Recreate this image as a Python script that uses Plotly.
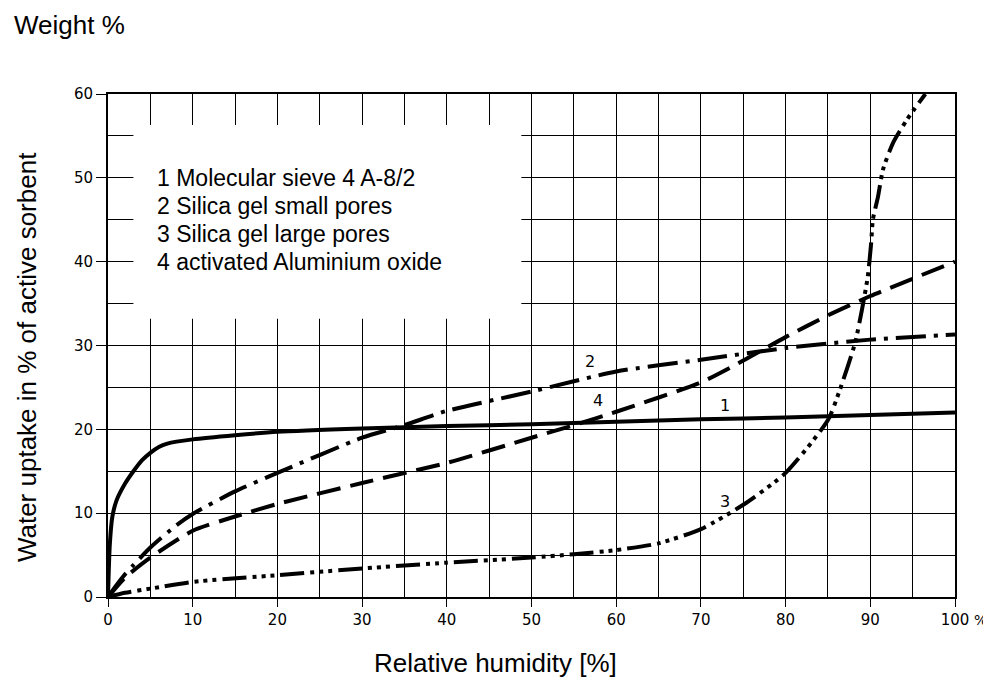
import plotly.graph_objects as go

# Relative humidity [%] and water uptake [weight %]
rh_1 = [0, 0.2, 0.5, 1, 2, 3, 4, 5, 6, 7, 10, 15, 20, 30, 40, 50, 60, 70, 80, 90, 100]
up_1 = [0, 6.0, 9.5, 11.5, 13.5, 15.0, 16.3, 17.2, 17.9, 18.3, 18.8, 19.3, 19.7, 20.1, 20.4, 20.6, 20.9, 21.2, 21.4, 21.7, 22.0]

rh_2 = [0, 1, 2, 3, 5, 8, 10, 15, 20, 30, 35, 40, 50, 60, 70, 80, 90, 100]
up_2 = [0, 1.4, 2.7, 3.8, 5.9, 8.5, 9.9, 12.6, 14.8, 19.0, 20.5, 22.2, 24.5, 26.9, 28.3, 29.7, 30.7, 31.3]

rh_3 = [0, 2, 5, 10, 20, 30, 40, 50, 55, 60, 65, 70, 75, 80, 85, 86.4, 88.2, 89, 89.7, 90.1, 90.3, 90.9, 91.5, 92.7, 94.3, 96.5]
up_3 = [0, 0.5, 1.0, 1.8, 2.6, 3.4, 4.1, 4.7, 5.1, 5.6, 6.4, 8.1, 11.0, 14.8, 21.1, 24.7, 30.3, 34.2, 38.2, 42.2, 45.0, 47.7, 51.0, 54.2, 56.9, 60.0]

rh_4 = [0, 2, 5, 10, 15, 20, 30, 40, 50, 55, 60, 70, 75, 80, 85, 90, 100]
up_4 = [0, 2.3, 4.7, 7.9, 9.6, 11.1, 13.6, 16.0, 19.0, 20.5, 22.1, 25.6, 28.2, 31.0, 33.6, 35.9, 40.0]

legend_lines = ["1 Molecular sieve 4 A-8/2", "2 Silica gel small pores",
                "3 Silica gel large pores", "4 activated Aluminium oxide"]
legend_y = [50.0, 46.67, 43.33, 40.0]

curve_labels = ["1", "2", "3", "4"]
curve_label_x = [72.8, 56.9, 72.8, 57.8]
curve_label_y = [22.9, 28.1, 11.4, 23.4]

x_ticks = list(range(0, 101, 10))
y_ticks = list(range(0, 61, 10))

tick_font = dict(family="DejaVu Sans", size=15, color="black")
title_font = dict(family="Liberation Sans, Arial", size=26, color="black")
legend_font = dict(family="Liberation Sans, Arial", size=23, color="black")
label_font = dict(family="DejaVu Sans", size=16, color="black")

fig = go.Figure()
fig.add_trace(go.Scatter(x=rh_1, y=up_1, mode="lines", line=dict(color="black", width=4, shape="spline", smoothing=0.6)))
fig.add_trace(go.Scatter(x=rh_2, y=up_2, mode="lines", line=dict(color="black", width=4, shape="spline", smoothing=0.6, dash="30px,8px,4px,8px")))
fig.add_trace(go.Scatter(x=rh_3, y=up_3, mode="lines", line=dict(color="black", width=4, shape="spline", smoothing=0.6, dash="24px,6px,4px,5px,4px,5px,4px,6px")))
fig.add_trace(go.Scatter(x=rh_4, y=up_4, mode="lines", line=dict(color="black", width=4, shape="spline", smoothing=0.6, dash="24px,10px")))

fig.add_shape(type="rect", xref="x", yref="y", x0=3, x1=48.8, y0=33.2, y1=56.3,
              fillcolor="white", line=dict(width=0), layer="between")

for txt, yy in zip(legend_lines, legend_y):
    fig.add_annotation(x=5.5, y=yy, xref="x", yref="y", text=txt, showarrow=False,
                       xanchor="left", yanchor="middle", font=legend_font)

for txt, xx, yy in zip(curve_labels, curve_label_x, curve_label_y):
    fig.add_annotation(x=xx, y=yy, xref="x", yref="y", text=txt, showarrow=False,
                       font=label_font)

fig.add_annotation(x=-0.1133, y=1.137, xref="paper", yref="paper", text="Weight %",
                   showarrow=False, xanchor="left", yanchor="middle", font=title_font)
fig.add_annotation(x=-0.0956, y=0.477, xref="paper", yref="paper",
                   text="Water uptake in % of active sorbent", textangle=-90,
                   showarrow=False, xanchor="center", yanchor="middle", font=title_font)
fig.add_annotation(x=0.458, y=-0.131, xref="paper", yref="paper", text="Relative humidity [%]",
                   showarrow=False, xanchor="center", yanchor="middle", font=title_font)
fig.add_annotation(x=1.030, y=-0.046, xref="paper", yref="paper", text="%",
                   showarrow=False, xanchor="center", yanchor="middle",
                   font=dict(family="DejaVu Sans", size=14, color="black"))

fig.update_xaxes(range=[0, 100], tickvals=x_ticks, ticktext=[str(v) for v in x_ticks],
                 showgrid=True, gridcolor="black", gridwidth=1.3,
                 minor=dict(dtick=5, showgrid=True, gridcolor="black", gridwidth=1.3),
                 showline=True, linecolor="black", linewidth=1.8, mirror=True,
                 ticks="outside", ticklen=8, tickcolor="black", tickwidth=1.3,
                 tickfont=tick_font, zeroline=False)
fig.update_yaxes(range=[0, 60], tickvals=y_ticks, ticktext=[str(v) for v in y_ticks],
                 showgrid=True, gridcolor="black", gridwidth=1.3,
                 minor=dict(dtick=5, showgrid=True, gridcolor="black", gridwidth=1.3),
                 showline=True, linecolor="black", linewidth=1.8, mirror=True,
                 ticks="outside", ticklen=10, tickcolor="black", tickwidth=1.3,
                 tickfont=tick_font, zeroline=False)

fig.update_layout(width=983, height=674, margin=dict(l=100, r=36, t=86, b=85),
                  plot_bgcolor="white", paper_bgcolor="white", showlegend=False)

fig.write_html("out.html")
